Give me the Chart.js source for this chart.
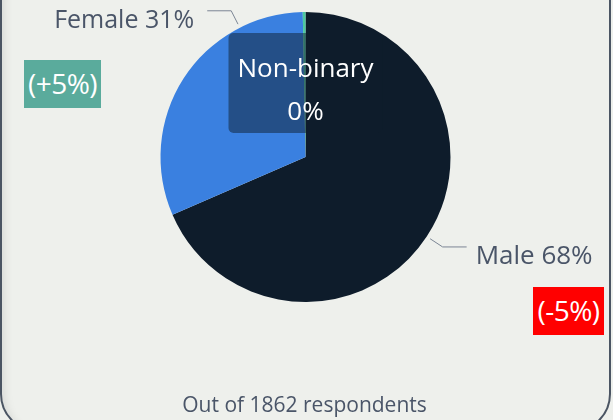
<!DOCTYPE html>
<html>
<head>
<meta charset="utf-8">
<script src="https://cdn.jsdelivr.net/npm/chart.js@4"></script>
<style>
  html, body { margin: 0; padding: 0; background: #eef0ec; overflow: hidden; }
  #wrap { position: relative; width: 613px; height: 420px; }
  #card {
    position: absolute; left: 0; top: -40px; width: 607px; height: 468px;
    border: 2px solid #4b5563; border-radius: 38px;
    box-shadow: inset 10px 0 10px -8px rgba(0,0,0,0.10);
  }
  canvas { position: absolute; left: 0; top: 0; }
  .badge {
    position: absolute; color: #fff; font-family: "Open Sans", sans-serif;
    font-size: 28px; height: 48px; line-height: 47px; text-align: center;
    letter-spacing: -0.5px;
  }
</style>
</head>
<body>
<div id="wrap">
  <div id="card"></div>
  <canvas id="genderChart" width="613" height="420"></canvas>
  <div class="badge" id="femaleChange" style="left:24px;top:60px;width:77px;background:#5aab9c;"></div>
  <div class="badge" id="maleChange" style="left:533px;top:287px;width:71px;background:#ff0000;"></div>
</div>
<script>
const generos = ['Male', 'Female', 'Non-binary'];
const percentuais = [68, 31, 0.3];  // % de respondentes
const variacoes = ['(-5%)', '(+5%)'];  // Male, Female
const totalRespondentes = 1862;

document.getElementById('maleChange').textContent = variacoes[0];
document.getElementById('femaleChange').textContent = variacoes[1];

const fonte = '"Open Sans", sans-serif';

// rótulos com linha de chamada + caixa do Non-binary
const rotulos = {
  id: 'rotulos',
  afterDatasetsDraw(chart) {
    const ctx = chart.ctx;
    const arcs = chart.getDatasetMeta(0).data;
    const posicao = [0.5, 0.77];  // onde a linha sai de cada fatia
    const tamanho = [26, 25];
    ctx.save();
    for (let i = 0; i < 2; i++) {
      const a = arcs[i];
      const ang = a.startAngle + (a.endAngle - a.startAngle) * posicao[i];
      const r1 = a.outerRadius + 4, r2 = a.outerRadius + 19;
      const x1 = a.x + r1 * Math.cos(ang), y1 = a.y + r1 * Math.sin(ang);
      const x2 = a.x + r2 * Math.cos(ang), y2 = a.y + r2 * Math.sin(ang);
      const dir = Math.cos(ang) >= 0 ? 1 : -1;
      const x3 = x2 + dir * 24;
      ctx.strokeStyle = '#7b8594';
      ctx.lineWidth = 1;
      ctx.beginPath();
      ctx.moveTo(x1, y1); ctx.lineTo(x2, y2); ctx.lineTo(x3, y2);
      ctx.stroke();
      ctx.fillStyle = '#4a5568';
      ctx.font = tamanho[i] + 'px ' + fonte;
      ctx.textAlign = dir > 0 ? 'left' : 'right';
      ctx.textBaseline = 'alphabetic';
      ctx.fillText(generos[i] + ' ' + Math.round(percentuais[i]) + '%', x3 + dir * (dir > 0 ? 9 : 13), y2 + 17);
    }
    // caixa Non-binary no topo
    const nb = arcs[2];
    const top = nb.y - nb.outerRadius;
    ctx.fillStyle = 'rgba(14,28,43,0.49)';
    ctx.beginPath();
    ctx.roundRect(nb.x - 77, top + 21, 154, 100, 5);
    ctx.fill();
    ctx.fillStyle = '#ffffff';
    ctx.font = '26px ' + fonte;
    ctx.textAlign = 'center';
    ctx.fillText(generos[2], nb.x, top + 65);
    ctx.fillText(Math.round(percentuais[2]) + '%', nb.x, top + 108);
    // rodapé
    ctx.fillStyle = '#4a5568';
    ctx.font = '21px ' + fonte;
    ctx.fillText('Out of ' + totalRespondentes + ' respondents', nb.x - 1, 412);
    ctx.restore();
  }
};

const ctx = document.getElementById('genderChart').getContext('2d');
const genderChart = new Chart(ctx, {
  type: 'pie',
  data: {
    labels: generos,
    datasets: [{
      data: percentuais,
      backgroundColor: ['#0e1c2b', '#3a80e0', '#4cc9a0'],
      borderWidth: 0
    }]
  },
  options: {
    responsive: false,
    animation: false,
    layout: { padding: { top: 12, bottom: 118, left: 160, right: 162 } },
    plugins: {
      legend: { display: false },
      tooltip: { enabled: false }
    }
  },
  plugins: [rotulos]
});
</script>
</body>
</html>
